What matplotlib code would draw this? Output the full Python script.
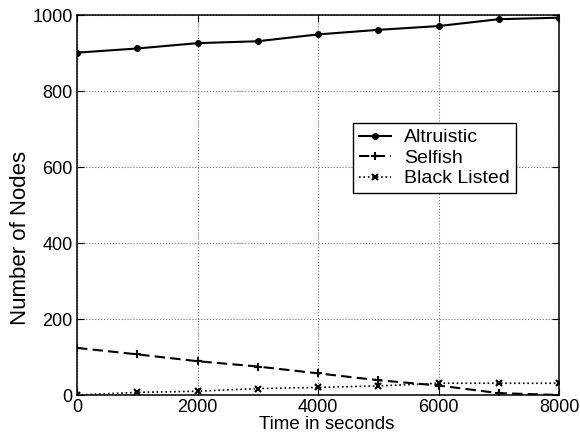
import matplotlib
matplotlib.use("Agg")
import matplotlib.pyplot as plt

plt.rcParams['font.family'] = ['Liberation Sans', 'DejaVu Sans']

time = [0, 1000, 2000, 3000, 4000, 5000, 6000, 7000, 8000]
altruistic = [901, 912, 926, 931, 949, 961, 971, 989, 993]
selfish = [124, 107, 89, 75, 57, 39, 25, 5, 0]
blacklisted = [0, 7, 10, 17, 20, 24, 31, 31, 31]
xticks = [0, 2000, 4000, 6000, 8000]
yticks = [0, 200, 400, 600, 800, 1000]

fig = plt.figure(figsize=(5.8, 4.46), dpi=100)
ax = fig.add_axes([0.1328, 0.1143, 0.831, 0.852])

ax.plot(time, altruistic, '-', color='black', lw=1.5, marker='o', ms=4, label='Altruistic')
ax.plot(time, selfish, color='black', lw=1.5, dashes=(5, 2.5), marker='+', ms=6, mew=1.5, label='Selfish')
ax.plot(time, blacklisted, ':', color='black', lw=1.2, marker='x', ms=4, mew=1.5, label='Black Listed')

ax.set_xlim(0, 8000)
ax.set_ylim(0, 1000)
ax.set_xticks(xticks)
ax.set_yticks(yticks)
ax.grid(True, linestyle=':', color='#777777', lw=0.8)
ax.tick_params(direction='in', top=True, right=True, labelsize=13, length=5, pad=3)
for s in ax.spines.values():
    s.set_linewidth(1.1)
ax.set_xlabel('Time in seconds', fontsize=13.5)
ax.xaxis.set_label_coords(0.518, -0.055)
ax.xaxis.label.set_va('top')
ax.set_ylabel('Number of Nodes', fontsize=16)
ax.yaxis.label.set_va('center')
ax.yaxis.set_label_coords(-0.117, 0.414)

leg = ax.legend(loc='upper left', bbox_to_anchor=(0.573, 0.716), fontsize=14,
                frameon=True, fancybox=False, edgecolor='black', framealpha=1,
                borderpad=0.3, labelspacing=0.15, handlelength=1.65, handletextpad=0.67,
                borderaxespad=0)
leg.get_frame().set_linewidth(1.0)

fig.savefig('out.png', dpi=100)
